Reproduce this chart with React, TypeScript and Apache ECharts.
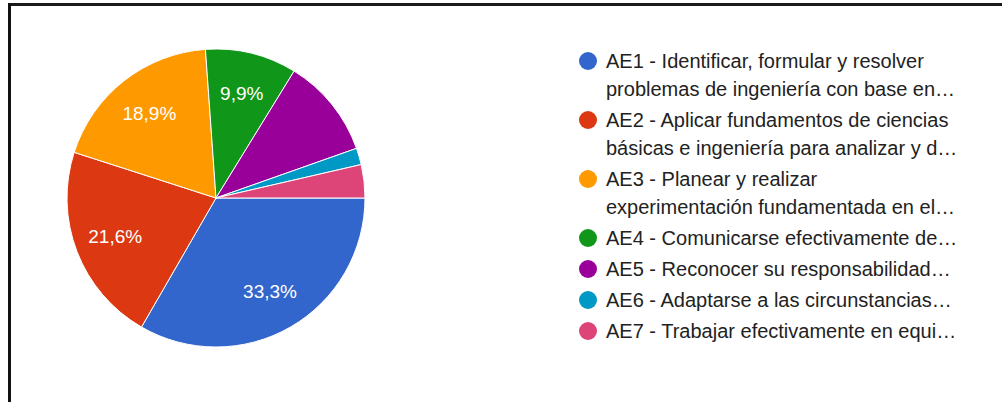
import React, { useEffect, useRef } from "react";
import * as echarts from "echarts";

const legendLines: string[][] = [
  ["AE1 - Identificar, formular y resolver", "problemas de ingeniería con base en…"],
  ["AE2 - Aplicar fundamentos de ciencias", "básicas e ingeniería para analizar y d…"],
  ["AE3 - Planear y realizar", "experimentación fundamentada en el…"],
  ["AE4 - Comunicarse efectivamente de…"],
  ["AE5 - Reconocer su responsabilidad…"],
  ["AE6 - Adaptarse a las circunstancias…"],
  ["AE7 - Trabajar efectivamente en equi…"],
];
const categories: string[] = legendLines.map((l) => l.join(" "));
const values: number[] = [37, 24, 21, 11, 12, 2, 4];
const labelled: boolean[] = [true, true, true, true, false, false, false];
const colors: string[] = ["#3366cc", "#dc3912", "#ff9900", "#109618", "#990099", "#0099c6", "#dd4477"];

const FONT = "'Liberation Sans', Arial, sans-serif";

export default function App() {
  const ref = useRef<HTMLDivElement>(null);
  useEffect(() => {
    if (!ref.current) return;
    const chart = echarts.init(ref.current, undefined, { renderer: "svg" });
    const total = values.reduce((a, b) => a + b, 0);
    const rich: Record<string, any> = {
      t: { fontFamily: FONT, fontSize: 20, lineHeight: 28, color: "#222" },
      g: { width: 9, lineHeight: 28 },
      ind: { width: 27, lineHeight: 28 },
    };
    colors.forEach((c, i) => {
      rich["d" + i] = { width: 18, height: 18, borderRadius: 9, backgroundColor: c, lineHeight: 28 };
    });
    chart.setOption({
      animation: false,
      backgroundColor: "#fff",
      graphic: [
        { type: "rect", shape: { x: 8, y: 3, width: 994, height: 3 }, style: { fill: "#1a1a1a" } },
        { type: "rect", shape: { x: 8, y: 3, width: 3, height: 399 }, style: { fill: "#111" } },
      ],
      legend: {
        orient: "vertical",
        left: 574,
        top: 47,
        padding: 0,
        itemGap: 3,
        icon: "none",
        itemWidth: 0,
        itemHeight: 14,
        selectedMode: false,
        data: categories,
        formatter: (name: string) => {
          const i = categories.indexOf(name);
          const lines = legendLines[i];
          return lines
            .map((l, k) => (k === 0 ? `{d${i}|}{g|}{t|${l}}` : `{ind|}{t|${l}}`))
            .join("\n");
        },
        textStyle: { fontFamily: FONT, fontSize: 20, lineHeight: 28, color: "#222", rich },
      },
      series: [
        {
          type: "pie",
          radius: 149,
          center: [216, 198],
          startAngle: 0,
          clockwise: true,
          label: { show: false },
          labelLine: { show: false },
          emphasis: { disabled: true },
          itemStyle: { borderColor: "#fff", borderWidth: 1 },
          data: categories.map((name, i) => ({ name, value: values[i], itemStyle: { color: colors[i] } })),
        },
        {
          type: "pie",
          radius: 210,
          center: [216, 198],
          startAngle: 0,
          clockwise: true,
          silent: true,
          legendHoverLink: false,
          itemStyle: { color: "rgba(0,0,0,0)", borderWidth: 0 },
          labelLine: { show: false },
          label: {
            show: true,
            position: "inside",
            color: "#fff",
            fontFamily: FONT,
            fontSize: 19,
            formatter: (p: any) => ((p.value / total) * 100).toFixed(1).replace(".", ",") + "%",
          },
          data: categories.map((name, i) => ({
            name,
            value: values[i],
            label: { show: labelled[i] },
          })),
        },
      ],
    });
    return () => chart.dispose();
  }, []);
  return (
    <div
      ref={ref}
      style={{ position: "fixed", left: 0, top: 0, width: 1002, height: 402 }}
    />
  );
}
